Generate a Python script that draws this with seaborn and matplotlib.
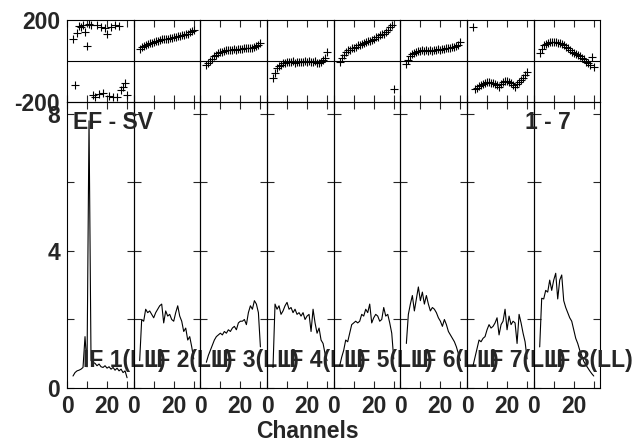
import numpy as np
import pandas as pd
import matplotlib
matplotlib.use("Agg")
import matplotlib.pyplot as plt
import matplotlib.transforms as mtransforms
import seaborn as sns

sns.set_style("white")
plt.rcParams['font.family'] = ['Liberation Sans', 'DejaVu Sans']
plt.rcParams['font.weight'] = 'bold'

# channels 3..30 for each IF
channels = list(range(3, 31))
if_labels = ["IF 1(LL)", "IF 2(LL)", "IF 3(LL)", "IF 4(LL)",
             "IF 5(LL)", "IF 6(LL)", "IF 7(LL)", "IF 8(LL)"]

# amplitude per IF
amp_if1 = [0.35, 0.45, 0.5, 0.52, 0.55, 0.6, 1.5, 0.62, 7.8, 0.8, 0.75, 0.72, 0.65, 0.7,
           0.62, 0.6, 0.65, 0.58, 0.62, 0.55, 0.6, 0.52, 0.58, 0.5, 0.55, 0.45, 0.5, 0.3]
amp_if2 = [0.8, 2.0, 1.95, 2.3, 2.2, 2.25, 2.15, 2.05, 2.2, 2.3, 2.4, 2.45, 1.9, 2.25,
           2.1, 2.15, 2.0, 1.95, 2.2, 2.4, 2.1, 1.95, 1.65, 1.75, 1.4, 1.5, 1.2, 0.85]
amp_if3 = [0.75, 0.95, 1.1, 1.25, 1.4, 1.5, 1.55, 1.6, 1.55, 1.65, 1.6, 1.7, 1.65, 1.75,
           1.8, 1.7, 1.9, 1.95, 1.95, 2.0, 1.85, 2.2, 2.4, 2.3, 2.55, 2.45, 2.2, 1.2]
amp_if4 = [0.6, 2.45, 2.3, 2.4, 2.15, 2.25, 2.4, 2.5, 2.3, 2.35, 2.2, 2.3, 2.15, 2.2,
           2.1, 2.2, 2.0, 2.1, 2.15, 1.65, 2.3, 1.9, 1.6, 1.75, 1.4, 1.3, 1.0, 0.8]
amp_if5 = [0.65, 0.9, 1.1, 1.4, 1.35, 1.6, 1.85, 1.9, 1.95, 1.9, 1.95, 2.15, 2.1, 2.3,
           2.2, 2.45, 1.9, 2.05, 2.15, 2.1, 1.95, 2.0, 2.35, 2.1, 2.15, 1.9, 1.6, 0.85]
amp_if6 = [1.3, 2.15, 2.45, 2.7, 2.25, 2.6, 2.95, 2.55, 2.8, 2.45, 2.7, 2.45, 2.25, 2.35,
           2.3, 2.2, 2.05, 1.95, 1.8, 2.0, 1.85, 1.65, 1.55, 1.45, 1.35, 1.2, 1.0, 0.8]
amp_if7 = [0.65, 0.9, 1.15, 1.4, 1.35, 1.45, 1.5, 1.7, 1.85, 1.75, 1.8, 1.9, 2.05, 1.55,
           1.85, 1.95, 2.3, 1.7, 2.1, 1.85, 1.95, 1.9, 1.3, 2.15, 1.9, 1.6, 1.35, 0.85]
amp_if8 = [1.2, 2.62, 2.6, 2.85, 2.8, 3.15, 2.85, 3.15, 3.35, 2.6, 3.15, 3.3, 2.55, 2.35,
           2.2, 2.05, 1.95, 1.7, 1.45, 1.3, 1.1, 0.95, 0.78, 0.68, 0.59, 0.5, 0.42, 0.35]

# phase (degrees) per IF
ph_if1 = [106, -117, 137, 171, 166, 176, 143, 73, 180, 176, -166, -174, 176, -162,
          166, -154, 161, 132, -171, 166, -174, 174, -174, 171, -141, -127, -107, -166]
ph_if2 = [57, 66, 71, 79, 83, 89, 90, 95, 96, 100, 101, 105, 105, 109,
          108, 112, 112, 117, 116, 121, 121, 126, 127, 132, 134, 141, 145, 152]
ph_if3 = [-20, -10, 0, 12, 22, 30, 38, 42, 46, 50, 53, 52, 55, 56,
          57, 55, 58, 60, 59, 61, 62, 63, 64, 65, 68, 72, 80, 88]
ph_if4 = [-85, -60, -35, -25, -18, -12, -8, -5, -3, -6, -2, -8, -5, -3,
          -7, -4, -2, -6, -1, -5, -3, 0, -8, -12, -3, 5, 15, 45]
ph_if5 = [-3, 15, 30, 42, 52, 56, 62, 65, 70, 78, 80, 85, 89, 92,
          96, 100, 102, 108, 115, 119, 125, 132, 134, 140, 150, 167, 174, -138]
ph_if6 = [-15, 5, 22, 35, 40, 45, 48, 50, 52, 50, 53, 51, 54, 50,
          52, 55, 57, 54, 58, 60, 62, 63, 65, 70, 68, 72, 80, 95]
ph_if7 = [164, -138, -130, -122, -118, -112, -109, -104, -101, -105, -109, -112, -118, -125,
          -110, -100, -96, -99, -102, -106, -115, -127, -110, -101, -95, -85, -70, -52]
ph_if8 = [37, 60, 78, 85, 89, 92, 94, 95, 93, 89, 87, 85, 78, 70,
          63, 55, 46, 40, 34, 29, 22, 13, 8, -3, -10, -20, 21, -28]

amps = [amp_if1, amp_if2, amp_if3, amp_if4, amp_if5, amp_if6, amp_if7, amp_if8]
phases = [ph_if1, ph_if2, ph_if3, ph_if4, ph_if5, ph_if6, ph_if7, ph_if8]

W, H = 636, 443
fig = plt.figure(figsize=(W / 100, H / 100), dpi=100)

x0, pw = 67, 66.67
ph_top, ph_bot = 20, 102
amp_top, amp_bot = 102, 388
fs = 16.5

for i in range(8):
    left = (x0 + i * pw) / W
    axp = fig.add_axes([left, 1 - ph_bot / H, pw / W, (ph_bot - ph_top) / H])
    axa = fig.add_axes([left, 1 - amp_bot / H, pw / W, (amp_bot - amp_top) / H])

    df = pd.DataFrame({'ch': channels, 'amp': amps[i], 'phase': phases[i]})

    sns.scatterplot(data=df, x='ch', y='phase', ax=axp, marker='+', color='black',
                    s=30, linewidth=0.8)
    axp.axhline(0, color='black', lw=0.8)
    axp.set_ylim(-200, 200)
    sns.lineplot(data=df, x='ch', y='amp', ax=axa, color='black', lw=0.8)
    axa.set_ylim(0, 8.35)

    for ax in (axp, axa):
        ax.set_facecolor('none')
        ax.set_xlim(0, 33.3)
        ax.set_xlabel('')
        ax.set_ylabel('')
        for sp in ax.spines.values():
            sp.set_color('black')
            sp.set_linewidth(0.8)
        ax.set_xticks([0, 10, 20, 30])
        ax.tick_params(axis='both', direction='in', length=5, width=0.8,
                       top=True, right=True, left=True, bottom=True,
                       labelsize=fs, pad=5)

    axp.set_xticklabels([])
    axp.set_yticks([-200, 200])
    axp.tick_params(axis='y', length=0)
    axa.set_yticks([0, 2, 4, 6, 8])
    axa.set_xticklabels(['0', '', '20', ''])
    if i == 0:
        axp.set_yticklabels(['-200', '200'])
        axa.set_yticklabels(['0', '', '4', '', '8'])
    else:
        axp.set_yticklabels([])
        axa.set_yticklabels([])

    trans = mtransforms.blended_transform_factory(axa.transAxes, axa.transData)
    axa.text(16 / pw, 0.6, if_labels[i], transform=trans,
             fontsize=fs, fontweight='bold', ha='left', va='baseline',
             clip_on=False, zorder=10)

fig.text(73 / W, 1 - 129 / H, "EF - SV", fontsize=fs, fontweight='bold',
         ha='left', va='baseline')
fig.text(571 / W, 1 - 129 / H, "1 - 7", fontsize=fs, fontweight='bold',
         ha='right', va='baseline')
fig.text(307 / W, 1 - 438 / H, "Channels", fontsize=fs, fontweight='bold',
         ha='center', va='baseline')

fig.savefig("out.png", dpi=100)
